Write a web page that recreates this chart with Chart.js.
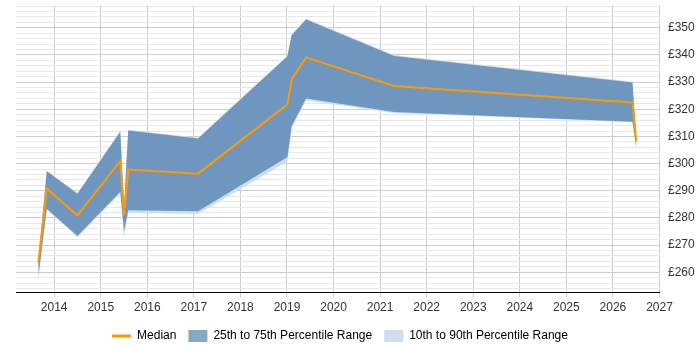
<!DOCTYPE html>
<html>
<head>
<meta charset="utf-8">
<script src="https://cdn.jsdelivr.net/npm/chart.js@4/dist/chart.umd.min.js"></script>
<style>
    html, body { margin: 0; padding: 0; background: #fff; }
    #wrap { width: 700px; height: 350px; }
</style>
</head>
<body>
<div id="wrap"><canvas id="myChart" width="700" height="350"></canvas></div>
<script>
// values (x = fractional year)
const years = [2013.66, 2013.84, 2014.50, 2015.42, 2015.50, 2015.59, 2017.09, 2019.01, 2019.10, 2019.41, 2021.30, 2026.42, 2026.50];
const median = [263.5, 290.8, 280.9, 301.0, 280.9, 297.8, 296.3, 321.8, 331.1, 339.1, 328.6, 322.5, 308.3];
const p75 = [264.0, 297.2, 288.9, 311.7, 284.0, 312.2, 309.2, 339.5, 347.3, 353.1, 339.6, 329.9, 309.0];
const p25 = [258.2, 283.4, 273.3, 289.6, 275.0, 282.8, 282.5, 302.4, 313.8, 324.0, 319.0, 315.4, 306.0];
const p90 = [264.2, 297.5, 289.2, 312.0, 284.5, 312.5, 309.5, 339.8, 347.6, 353.4, 340.0, 330.2, 309.3];
const p10 = [257.5, 283.0, 273.0, 289.0, 272.8, 281.8, 281.4, 300.8, 313.0, 323.2, 318.6, 315.2, 305.2];

const yearTicks = [2014, 2015, 2016, 2017, 2018, 2019, 2020, 2021, 2022, 2023, 2024, 2025, 2026, 2027];
const payTicks = [260, 270, 280, 290, 300, 310, 320, 330, 340, 350];

const legendNames = ['Median', '25th to 75th Percentile Range', '10th to 90th Percentile Range'];

function pts(values) {
    return years.map((y, i) => ({ x: y, y: values[i] }));
}

// the original legend sits a little left of the canvas centre
const shiftLegend = {
    id: 'shiftLegend',
    afterLayout(chart) {
        if (chart.legend) chart.legend.right -= 36;
    }
};

function showChart() {
    const ctx = document.getElementById('myChart').getContext('2d');
    Chart.defaults.font.family = '"Liberation Sans", Arial, sans-serif';
    Chart.defaults.font.size = 12;
    Chart.defaults.color = '#333';

    const line = { pointRadius: 0, tension: 0, borderWidth: 0 };

    new Chart(ctx, {
        type: 'line',
        data: {
            datasets: [
                { label: 'Median', data: pts(median), borderColor: '#ff9900', borderWidth: 2, pointRadius: 0, tension: 0, fill: false, order: 0 },
                Object.assign({ label: 'p75', data: pts(p75), backgroundColor: 'rgb(110,150,190)', fill: '+1', order: 1 }, line),
                Object.assign({ label: 'p25', data: pts(p25), fill: false, order: 1 }, line),
                Object.assign({ label: 'p90', data: pts(p90), backgroundColor: 'rgb(207,222,239)', fill: '+1', order: 2 }, line),
                Object.assign({ label: 'p10', data: pts(p10), fill: false, order: 2 }, line)
            ]
        },
        plugins: [shiftLegend],
        options: {
            responsive: false,
            animation: false,
            layout: { padding: { left: 16, right: 0, top: 5, bottom: -2 } },
            plugins: {
                tooltip: { enabled: false },
                legend: {
                    position: 'bottom',
                    labels: {
                        usePointStyle: true,
                        pointStyleWidth: 19,
                        boxHeight: 15,
                        padding: 12,
                        color: '#333',
                        generateLabels: () => [
                            { text: legendNames[0], pointStyle: 'line', strokeStyle: '#ff9900', fillStyle: '#ff9900', lineWidth: 3, datasetIndex: 0 },
                            { text: legendNames[1], pointStyle: 'rect', fillStyle: 'rgb(136,166,198)', strokeStyle: 'rgb(136,166,198)', lineWidth: 0, datasetIndex: 1 },
                            { text: legendNames[2], pointStyle: 'rect', fillStyle: 'rgb(207,222,239)', strokeStyle: 'rgb(207,222,239)', lineWidth: 0, datasetIndex: 3 }
                        ]
                    }
                }
            },
            scales: {
                x: {
                    type: 'linear',
                    min: 2013.18,
                    max: 2027,
                    afterBuildTicks: (scale) => { scale.ticks = yearTicks.map(v => ({ value: v })); },
                    ticks: { autoSkip: false, maxRotation: 0, padding: 3, callback: (v) => String(v) },
                    grid: { color: '#cccccc', tickLength: 5, tickColor: '#cccccc' },
                    border: { color: '#000', width: 1 }
                },
                y: {
                    position: 'right',
                    min: 252.5,
                    max: 358.4,
                    afterBuildTicks: (scale) => {
                        const t = [];
                        for (let v = 254; v <= 358; v += 2) t.push({ value: v });
                        scale.ticks = t;
                    },
                    afterFit: (scale) => {
                        scale.width = 40.5;
                        scale.paddingTop = 0;
                        scale.paddingBottom = 0;
                    },
                    ticks: {
                        autoSkip: false,
                        padding: 8.5,
                        callback: (v) => payTicks.includes(v) ? '£' + v : ''
                    },
                    grid: {
                        drawTicks: false,
                        color: (c) => (c.tick && c.tick.value % 10 === 0) ? '#cccccc' : '#e8e8e8'
                    },
                    border: { display: false }
                }
            }
        }
    });
}

document.addEventListener('DOMContentLoaded', () => {
    showChart();
});
</script>
</body>
</html>
